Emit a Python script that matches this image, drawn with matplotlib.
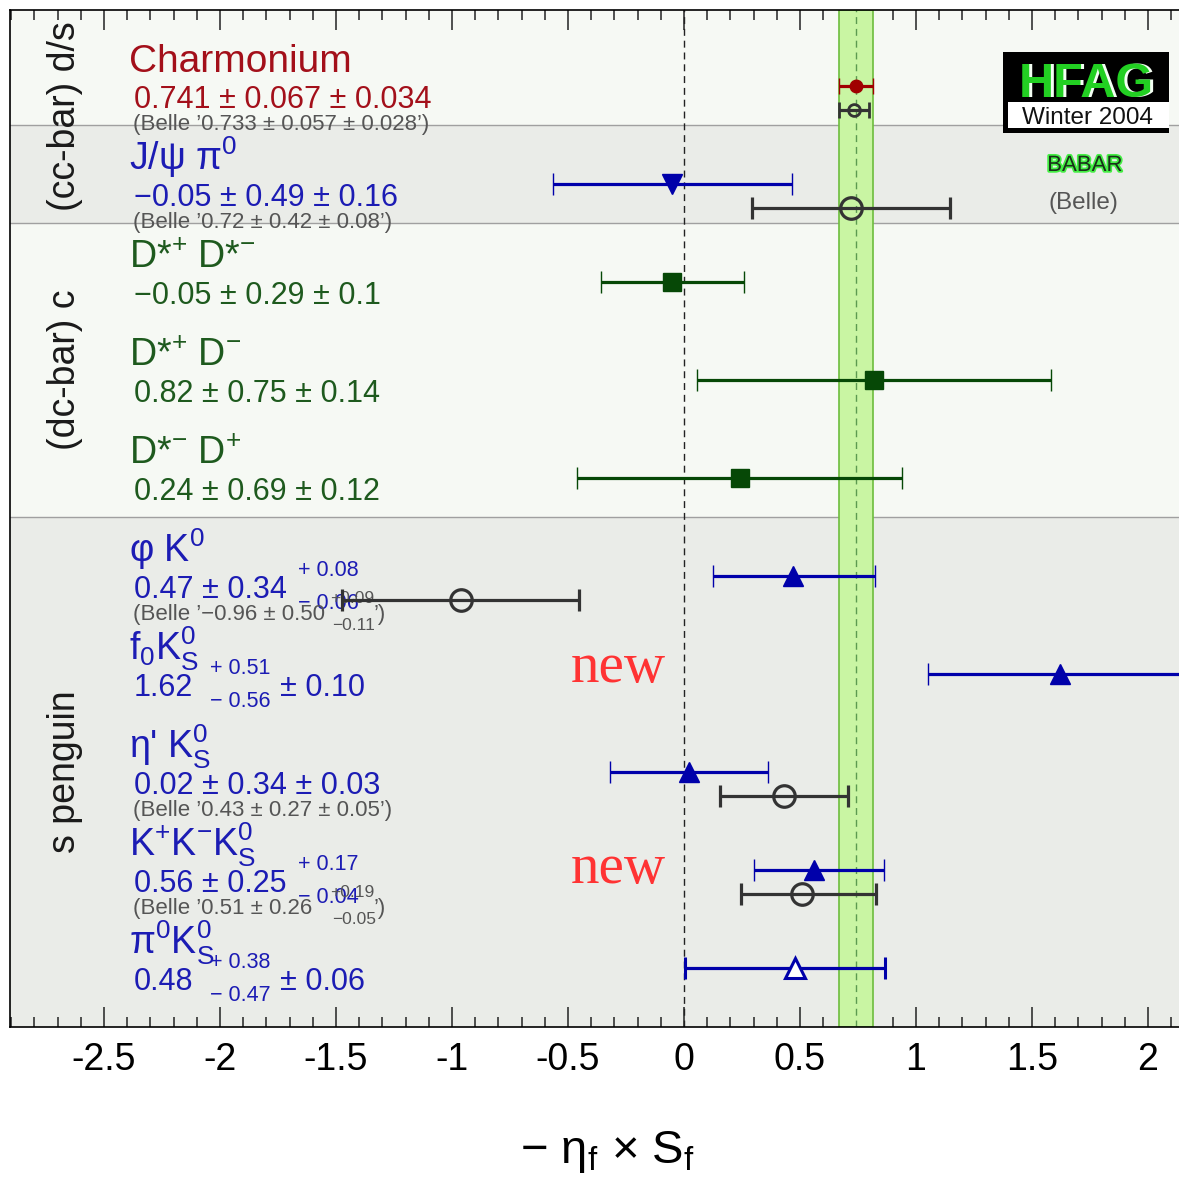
import matplotlib
matplotlib.use("Agg")
import numpy as np
import matplotlib.pyplot as plt
from matplotlib import font_manager
from matplotlib.transforms import blended_transform_factory
from matplotlib.patches import Rectangle
import matplotlib.patheffects as pe


def has_font(name):
    try:
        font_manager.findfont(font_manager.FontProperties(family=name),
                              fallback_to_default=False)
        return True
    except Exception:
        return False


SANS = "Liberation Sans"
NARROW = "Liberation Sans Narrow" if has_font("Liberation Sans Narrow") else SANS
SERIF = "Liberation Serif"

plt.rcParams.update({
    "font.family": [SANS, "DejaVu Sans"],
    "mathtext.fontset": "custom",
    "mathtext.rm": SANS,
    "mathtext.it": SANS + ":italic",
    "mathtext.bf": SANS + ":bold",
    "axes.unicode_minus": False,
})

# ---------------- data ----------------
rows = np.arange(10)
decay_names = ["Charmonium", r"J/ψ π$^{0}$", r"D*$^{+}$ D*$^{-}$", r"D*$^{+}$ D$^{-}$",
               r"D*$^{-}$ D$^{+}$", r"φ K$^{0}$", r"f$_{0}$K$^{0}_{\mathrm{S}}$",
               r"η' K$^{0}_{\mathrm{S}}$", r"K$^{+}$K$^{-}$K$^{0}_{\mathrm{S}}$",
               r"π$^{0}$K$^{0}_{\mathrm{S}}$"]
name_colors = ["#a3101a", "#1c1cb4", "#1e5a1e", "#1e5a1e", "#1e5a1e",
               "#1c1cb4", "#1c1cb4", "#1c1cb4", "#1c1cb4", "#1c1cb4"]

# BABAR results (value, total lower / upper error)
babar_val = [0.741, -0.05, -0.05, 0.82, 0.24, 0.47, 1.62, 0.02, 0.56, 0.48]
babar_elo = [0.075, 0.515, 0.307, 0.763, 0.700, 0.345, 0.569, 0.341, 0.258, 0.474]
babar_ehi = [0.075, 0.515, 0.307, 0.763, 0.700, 0.353, 0.520, 0.341, 0.300, 0.385]
babar_marker = ["o", "v", "s", "s", "s", "^", "^", "^", "^", "^"]
babar_open = [False] * 9 + [True]
babar_color = ["#a00000", "#0000aa", "#064806", "#064806", "#064806",
               "#0000aa", "#0000aa", "#0000aa", "#0000aa", "#0000aa"]

value_main = ["0.741 ± 0.067 ± 0.034", "−0.05 ± 0.49 ± 0.16", "−0.05 ± 0.29 ± 0.1",
              "0.82 ± 0.75 ± 0.14", "0.24 ± 0.69 ± 0.12", "0.47 ± 0.34", "1.62",
              "0.02 ± 0.34 ± 0.03", "0.56 ± 0.25", "0.48"]
value_sup = [None, None, None, None, None, "+ 0.08", "+ 0.51", None, "+ 0.17", "+ 0.38"]
value_sub = [None, None, None, None, None, "− 0.06", "− 0.56", None, "− 0.04", "− 0.47"]
value_tail = [None, None, None, None, None, None, "± 0.10", None, None, "± 0.06"]

# Belle results
belle_rows = [0, 1, 5, 7, 8]
belle_val = [0.733, 0.72, -0.96, 0.43, 0.51]
belle_elo = [0.063, 0.428, 0.512, 0.275, 0.265]
belle_ehi = [0.063, 0.428, 0.508, 0.275, 0.318]
belle_main = ["(Belle ’0.733 ± 0.057 ± 0.028’)", "(Belle ’0.72 ± 0.42 ± 0.08’)",
              "(Belle ’−0.96 ± 0.50", "(Belle ’0.43 ± 0.27 ± 0.05’)",
              "(Belle ’0.51 ± 0.26"]
belle_sup = [None, None, "+0.09", None, "+0.19"]
belle_sub = [None, None, "−0.11", None, "−0.05"]

group_names = ["(cc-bar) d/s", "(dc-bar) c", "s penguin"]
group_edges = [1.4, 4.4]

xtick_vals = [-2.5, -2, -1.5, -1, -0.5, 0, 0.5, 1, 1.5, 2]
xtick_labels = ["-2.5", "-2", "-1.5", "-1", "-0.5", "0", "0.5", "1", "1.5", "2"]

new_rows = [6, 8]

# ---------------- layout ----------------
W, H = 1179, 1178
ROW_PX = 98.2
fig = plt.figure(figsize=(W / 100, H / 100), dpi=100)
ax = fig.add_axes([10 / W, 1 - 1027 / H, 1169 / W, 1017 / H])
y_top, y_bot = -0.774, 9.601
ax.set_xlim(-2.905, 2.1336)
ax.set_ylim(y_bot, y_top)

light, grey = "#f6f9f4", "#eaece8"
ax.axhspan(y_top, 0.4, color=light, lw=0, zorder=0)
ax.axhspan(0.4, 1.4, color=grey, lw=0, zorder=0)
ax.axhspan(1.4, 4.4, color=light, lw=0, zorder=0)
ax.axhspan(4.4, y_bot, color=grey, lw=0, zorder=0)
for yy in [0.4, 1.4, 4.4]:
    ax.axhline(yy, color="#a0a0a0", lw=1.0, zorder=1)

# reference band from charmonium
c0, e0 = babar_val[0], babar_elo[0]
ax.axvspan(c0 - e0, c0 + e0, facecolor="#c9f5a3", edgecolor="#6dbd3d", lw=1.2, zorder=2)
ax.axvline(c0, color="#5c9a50", lw=1.0, dashes=(5, 3.5), zorder=2)
ax.axvline(0, color="#222222", lw=1.0, dashes=(5, 3.5), zorder=2)

for k in rows:
    ms = 9 if k == 0 else (13 if babar_marker[k] == "s" else 14)
    cap = 5.5 if k == 0 else 8
    col = babar_color[k]
    ax.errorbar(babar_val[k], k, xerr=[[babar_elo[k]], [babar_ehi[k]]],
                fmt=babar_marker[k], color=col, ms=ms,
                mfc="white" if babar_open[k] else col, mec=col,
                mew=2.2 if babar_open[k] else 1,
                elinewidth=2.3, capsize=cap, capthick=2.3, zorder=5)

BELLE_DY = 24 / ROW_PX
for i, k in enumerate(belle_rows):
    small = k == 0
    ax.errorbar(belle_val[i], k + BELLE_DY, xerr=[[belle_elo[i]], [belle_ehi[i]]],
                fmt="o", color="#333333", ms=8.5 if small else 15.5, mfc="none",
                mec="#333333", mew=2.0 if small else 2.3,
                elinewidth=2.3, capsize=5.5 if small else 8, capthick=2.3, zorder=5)

# ---------------- labels ----------------
tr = blended_transform_factory(ax.transAxes, ax.transData)


def fx(px):
    return (px - 10) / 1169


def put(px, k, dpx, s, size, color, **kw):
    ax.text(fx(px), k + dpx / ROW_PX, s, transform=tr, fontsize=size, color=color,
            va="baseline", ha=kw.pop("ha", "left"), **kw)


for k in rows:
    put(129, k, -14, decay_names[k], 28 if k == 0 else 27, name_colors[k])
    put(134, k, 22, value_main[k], 22, name_colors[k])
    if value_sup[k]:
        sx = 298 if value_tail[k] is None else 210
        put(sx, k, 0, value_sup[k], 15.5, name_colors[k])
        put(sx, k, 33, value_sub[k], 15.5, name_colors[k])
    if value_tail[k]:
        put(280, k, 22, value_tail[k], 22, name_colors[k])

for i, k in enumerate(belle_rows):
    put(133, k, 44, belle_main[i], 16, "#555555")
    if belle_sup[i]:
        put(330, k, 27, belle_sup[i], 12.5, "#555555")
        put(332, k, 54, belle_sub[i], 12.5, "#555555")
        put(374, k, 44, "’)", 16, "#555555")

spans = [(y_top, group_edges[0]), (group_edges[0], group_edges[1]), (group_edges[1], y_bot)]
for name, (a, b) in zip(group_names, spans):
    ax.text(fx(65), (a + b) / 2, name, transform=tr, rotation=90, fontsize=27,
            color="#1a1a1a", ha="center", va="center")

for k, dpx in zip(new_rows, [8, 13]):
    put(571, k, dpx, "new", 41, "#ff3333", family=SERIF)

# ---------------- axes styling ----------------
ax.set_yticks([])
ax.set_xticks(xtick_vals, xtick_labels)
ax.set_xticks(np.arange(-2.9, 2.15, 0.1), minor=True)
ax.tick_params(axis="x", which="both", direction="in", top=True, bottom=True,
               width=1.1, color="#222222")
ax.tick_params(axis="x", which="major", length=14.5, labelsize=27, pad=11)
ax.tick_params(axis="x", which="minor", length=7)
for lab in ax.get_xticklabels():
    lab.set_family(NARROW)
for s in ["left", "bottom", "top"]:
    ax.spines[s].set_linewidth(1.2)
ax.spines["right"].set_visible(False)

fig.text(607 / W, 1 - 1163 / H, "− η$_{\\mathrm{f}}$ × S$_{\\mathrm{f}}$",
         fontsize=34, family=NARROW, ha="center", va="baseline")

# ---------------- HFAG logo ----------------
ft = fig.transFigure
fig.patches.append(Rectangle((1003 / W, 1 - 133 / H), 166 / W, 81 / H,
                             transform=ft, facecolor="black", edgecolor="none"))
fig.patches.append(Rectangle((1008 / W, 1 - 128 / H), 161 / W, 26 / H,
                             transform=ft, facecolor="white", edgecolor="none"))
fig.text(1089 / W, 1 - 97 / H, "HFAG", fontsize=35, weight="bold", color="#f4fff4",
         ha="center", va="baseline")
fig.text(1086 / W, 1 - 97 / H, "HFAG", fontsize=35, weight="bold", color="#22d022",
         ha="center", va="baseline")
fig.text(1088 / W, 1 - 124 / H, "Winter 2004", fontsize=17.5, color="#111111",
         ha="center", va="baseline")
fig.text(1085 / W, 1 - 171 / H, "BABAR", fontsize=16, color="#1a301a",
         ha="center", va="baseline",
         path_effects=[pe.withStroke(linewidth=2.5, foreground="#44ee44")])
fig.text(1083 / W, 1 - 209 / H, "(Belle)", fontsize=17.5, color="#555555",
         ha="center", va="baseline")

fig.savefig("out.png", dpi=100)
